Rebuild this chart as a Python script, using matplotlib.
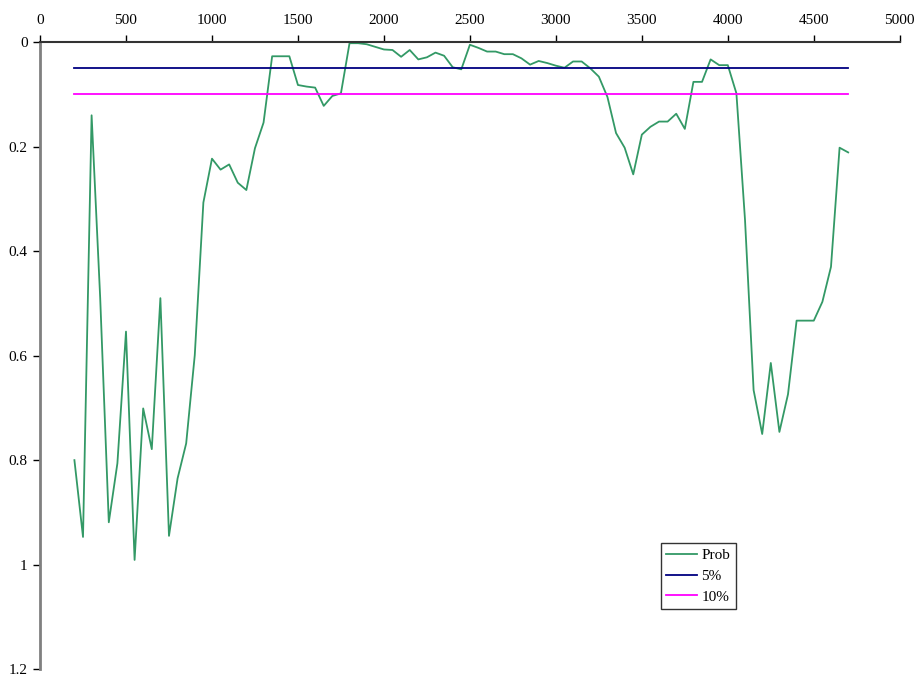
import numpy as np
import matplotlib
matplotlib.use('Agg')
from matplotlib import pyplot as plt

# x positions: every 50 from 200 to 4700
x = list(range(200, 4701, 50))

prob = [0.800, 0.947, 0.140, 0.490, 0.919, 0.806, 0.554, 0.991, 0.701, 0.779,
        0.490, 0.945, 0.835, 0.768, 0.599, 0.307, 0.223, 0.244, 0.234, 0.269,
        0.283, 0.203, 0.154, 0.027, 0.027, 0.027, 0.082, 0.085, 0.087, 0.122,
        0.103, 0.098, 0.002, 0.002, 0.004, 0.009, 0.014, 0.015, 0.028, 0.015,
        0.033, 0.029, 0.020, 0.026, 0.048, 0.052, 0.005, 0.011, 0.018, 0.018,
        0.023, 0.023, 0.031, 0.043, 0.036, 0.040, 0.045, 0.049, 0.037, 0.037,
        0.050, 0.066, 0.105, 0.174, 0.202, 0.253, 0.177, 0.162, 0.152, 0.152,
        0.137, 0.166, 0.076, 0.076, 0.033, 0.044, 0.044, 0.098, 0.340, 0.666,
        0.750, 0.614, 0.746, 0.674, 0.533, 0.533, 0.533, 0.497, 0.430, 0.202,
        0.211]

lvl5 = [0.05] * len(x)
lvl10 = [0.10] * len(x)

plt.rcParams['font.family'] = ['Liberation Serif', 'DejaVu Serif']

fig = plt.figure(figsize=(9.2, 6.8), dpi=100)
ax = fig.add_axes([0.0435, 0.016, 0.9345, 0.922])

ax.plot(x, prob, color='#339966', lw=1.3, label='Prob')
ax.plot(x, lvl5, color='#000080', lw=1.3, label='5%')
ax.plot(x, lvl10, color='#FF00FF', lw=1.3, label='10%')

ax.set_xlim(0, 5000)
ax.set_ylim(1.2, 0)
ax.set_xticks(range(0, 5001, 500))
ax.set_yticks([0, 0.2, 0.4, 0.6, 0.8, 1, 1.2])
ax.set_yticklabels(['0', '0.2', '0.4', '0.6', '0.8', '1', '1.2'])
ax.xaxis.tick_top()
ax.tick_params(axis='both', direction='out', length=5, width=1, labelsize=11, pad=4)
ax.tick_params(axis='x', pad=6)

for s in ['right', 'bottom']:
    ax.spines[s].set_visible(False)
ax.spines['left'].set_color('#808080')
ax.spines['left'].set_linewidth(2)
ax.spines['top'].set_color('#333333')
ax.spines['top'].set_linewidth(1.5)

leg = ax.legend(loc='lower left', bbox_to_anchor=(0.7185, 0.1045), bbox_transform=fig.transFigure,
                fontsize=11, frameon=True, fancybox=False, edgecolor='black',
                handlelength=2.0, handletextpad=0.3, borderpad=0.35, labelspacing=0.45,
                borderaxespad=0)
leg.get_frame().set_linewidth(1)

fig.savefig('out.png', dpi=100)
